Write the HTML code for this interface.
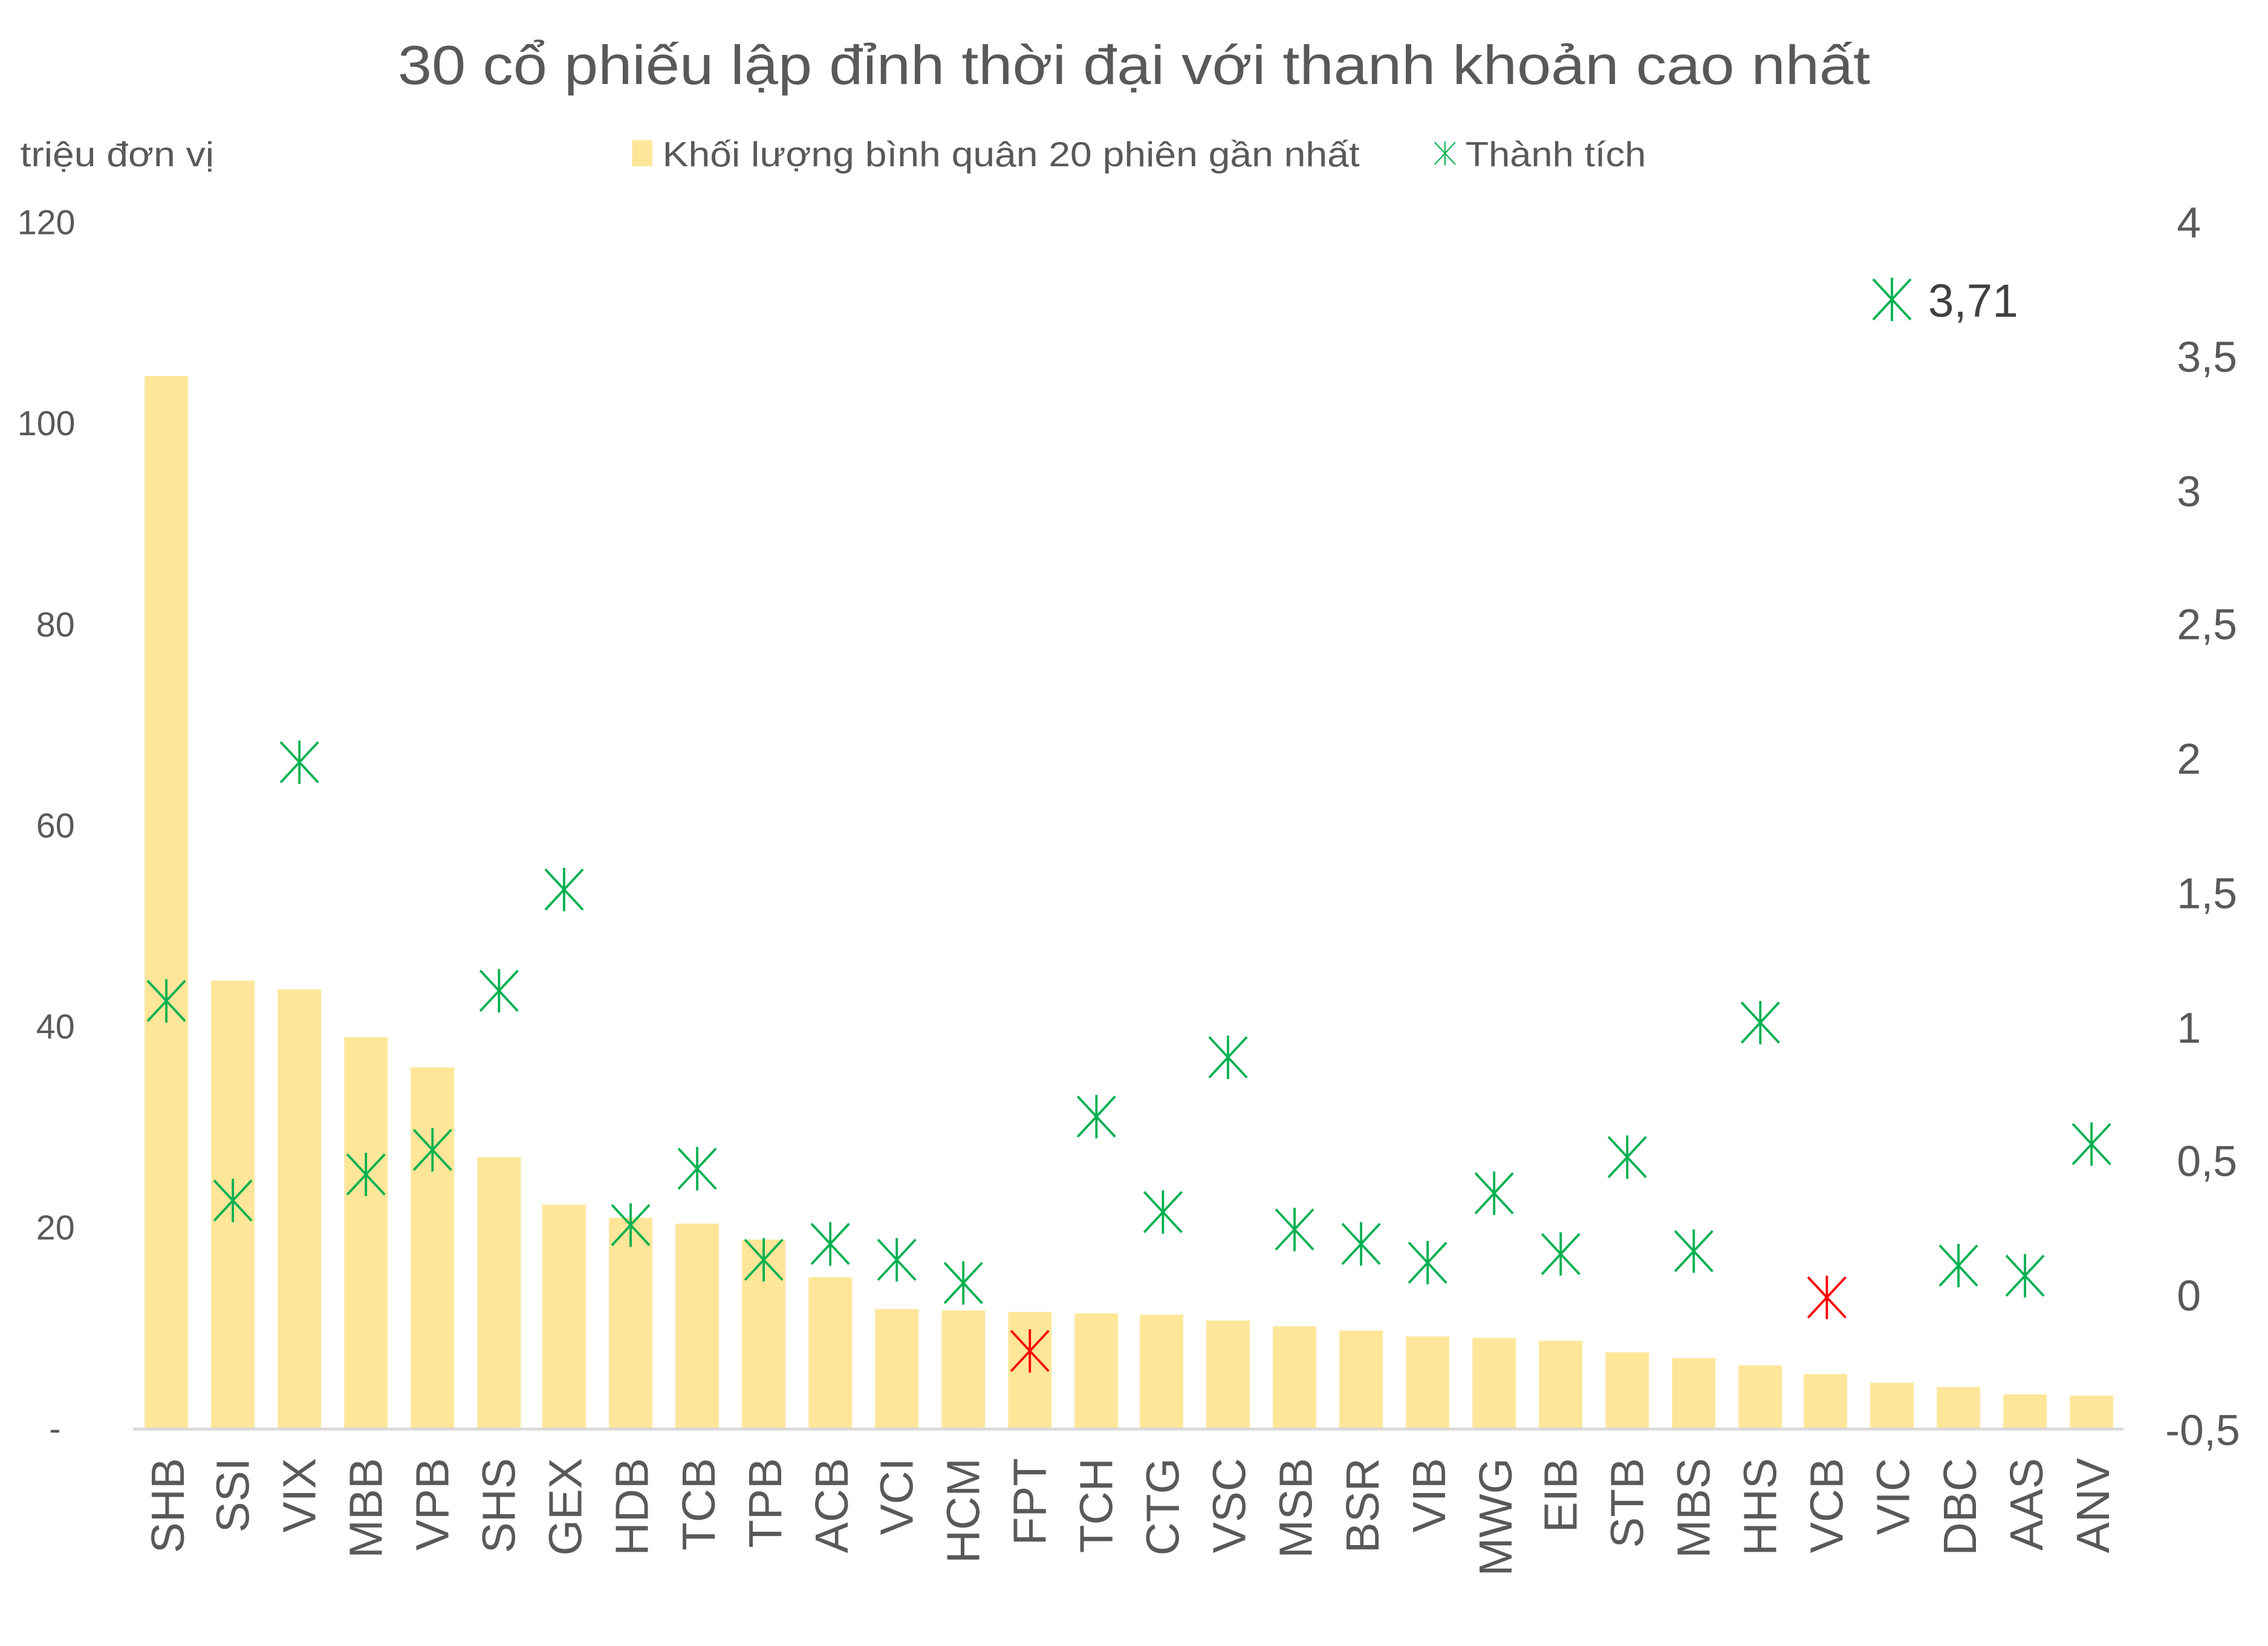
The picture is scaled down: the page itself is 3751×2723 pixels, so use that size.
<!DOCTYPE html>
<html><head><meta charset="utf-8"><style>
html,body{margin:0;padding:0;background:#fff;}
svg{display:block;}
text{font-family:"Liberation Sans",Arial,sans-serif;fill:#595959;}
</style></head><body>
<svg width="3751" height="2723" viewBox="0 0 1568 1138" preserveAspectRatio="none" xmlns="http://www.w3.org/2000/svg">
<defs>
<g id="m" stroke-width="1.6" fill="none"><line x1="-13" y1="-14" x2="13" y2="14"/><line x1="-13" y1="14" x2="13" y2="-14"/><line x1="0" y1="-15" x2="0" y2="15"/></g>
</defs>
<text x="275" y="58" font-size="38" textLength="1018" lengthAdjust="spacingAndGlyphs">30 cổ phiếu lập đỉnh thời đại với thanh khoản cao nhất</text>
<text x="14" y="115" font-size="24" textLength="134" lengthAdjust="spacingAndGlyphs">triệu đơn vị</text>
<rect x="437" y="97" width="14" height="18" fill="#ffe699"/>
<text x="458" y="115" font-size="24" textLength="482" lengthAdjust="spacingAndGlyphs">Khối lượng bình quân 20 phiên gần nhất</text>
<use href="#m" transform="translate(999,106) scale(0.55)" stroke="#00b050"/>
<text x="1013" y="115" font-size="24" textLength="125" lengthAdjust="spacingAndGlyphs">Thành tích</text>
<g font-size="24" text-anchor="start">
<text x="12" y="162">120</text><text x="12" y="301">100</text><text x="25" y="440">80</text><text x="25" y="579">60</text><text x="25" y="718">40</text><text x="25" y="857">20</text><text x="34" y="996">-</text>
</g>
<g font-size="30" text-anchor="start">
<text x="1505" y="164">4</text><text x="1505" y="257">3,5</text><text x="1505" y="350">3</text><text x="1505" y="442">2,5</text><text x="1505" y="535">2</text><text x="1505" y="628">1,5</text><text x="1505" y="721">1</text><text x="1505" y="813">0,5</text><text x="1505" y="906">0</text><text x="1497" y="999">-0,5</text>
</g>
<g fill="#ffe699">
<rect x="100" y="260" width="30" height="728"/>
<rect x="146" y="678" width="30" height="310"/>
<rect x="192" y="684" width="30" height="304"/>
<rect x="238" y="717" width="30" height="271"/>
<rect x="284" y="738" width="30" height="250"/>
<rect x="330" y="800" width="30" height="188"/>
<rect x="375" y="833" width="30" height="155"/>
<rect x="421" y="842" width="30" height="146"/>
<rect x="467" y="846" width="30" height="142"/>
<rect x="513" y="857" width="30" height="131"/>
<rect x="559" y="883" width="30" height="105"/>
<rect x="605" y="905" width="30" height="83"/>
<rect x="651" y="906" width="30" height="82"/>
<rect x="697" y="907" width="30" height="81"/>
<rect x="743" y="908" width="30" height="80"/>
<rect x="788" y="909" width="30" height="79"/>
<rect x="834" y="913" width="30" height="75"/>
<rect x="880" y="917" width="30" height="71"/>
<rect x="926" y="920" width="30" height="68"/>
<rect x="972" y="924" width="30" height="64"/>
<rect x="1018" y="925" width="30" height="63"/>
<rect x="1064" y="927" width="30" height="61"/>
<rect x="1110" y="935" width="30" height="53"/>
<rect x="1156" y="939" width="30" height="49"/>
<rect x="1202" y="944" width="30" height="44"/>
<rect x="1247" y="950" width="30" height="38"/>
<rect x="1293" y="956" width="30" height="32"/>
<rect x="1339" y="959" width="30" height="29"/>
<rect x="1385" y="964" width="30" height="24"/>
<rect x="1431" y="965" width="30" height="23"/>
</g>
<line x1="92" y1="988" x2="1468" y2="988" stroke="#d9d9d9" stroke-width="2"/>
<g stroke="#00b050">
<use href="#m" transform="translate(115,692)"/>
<use href="#m" transform="translate(161,830)"/>
<use href="#m" transform="translate(207,527)"/>
<use href="#m" transform="translate(253,812)"/>
<use href="#m" transform="translate(299,795)"/>
<use href="#m" transform="translate(345,685)"/>
<use href="#m" transform="translate(390,615)"/>
<use href="#m" transform="translate(436,847)"/>
<use href="#m" transform="translate(482,808)"/>
<use href="#m" transform="translate(528,871)"/>
<use href="#m" transform="translate(574,860)"/>
<use href="#m" transform="translate(620,871)"/>
<use href="#m" transform="translate(666,887)"/>
<use href="#m" transform="translate(758,772)"/>
<use href="#m" transform="translate(804,838)"/>
<use href="#m" transform="translate(849,731)"/>
<use href="#m" transform="translate(895,850)"/>
<use href="#m" transform="translate(941,860)"/>
<use href="#m" transform="translate(987,873)"/>
<use href="#m" transform="translate(1033,825)"/>
<use href="#m" transform="translate(1079,867)"/>
<use href="#m" transform="translate(1125,800)"/>
<use href="#m" transform="translate(1171,865)"/>
<use href="#m" transform="translate(1217,707)"/>
<use href="#m" transform="translate(1308,207)"/>
<use href="#m" transform="translate(1354,875)"/>
<use href="#m" transform="translate(1400,882)"/>
<use href="#m" transform="translate(1446,791)"/>
</g>
<g stroke="#ff0000">
<use href="#m" transform="translate(712,934)"/>
<use href="#m" transform="translate(1263,897)"/>
</g>
<text x="1333" y="219" font-size="32" style="fill:#404040">3,71</text>
<g font-size="32">
<text transform="translate(127,1008) rotate(-90)" text-anchor="end">SHB</text>
<text transform="translate(172,1008) rotate(-90)" text-anchor="end">SSI</text>
<text transform="translate(218,1008) rotate(-90)" text-anchor="end">VIX</text>
<text transform="translate(264,1008) rotate(-90)" text-anchor="end">MBB</text>
<text transform="translate(310,1008) rotate(-90)" text-anchor="end">VPB</text>
<text transform="translate(356,1008) rotate(-90)" text-anchor="end">SHS</text>
<text transform="translate(402,1008) rotate(-90)" text-anchor="end">GEX</text>
<text transform="translate(448,1008) rotate(-90)" text-anchor="end">HDB</text>
<text transform="translate(494,1008) rotate(-90)" text-anchor="end">TCB</text>
<text transform="translate(540,1008) rotate(-90)" text-anchor="end">TPB</text>
<text transform="translate(586,1008) rotate(-90)" text-anchor="end">ACB</text>
<text transform="translate(631,1008) rotate(-90)" text-anchor="end">VCI</text>
<text transform="translate(677,1008) rotate(-90)" text-anchor="end">HCM</text>
<text transform="translate(723,1008) rotate(-90)" text-anchor="end">FPT</text>
<text transform="translate(769,1008) rotate(-90)" text-anchor="end">TCH</text>
<text transform="translate(815,1008) rotate(-90)" text-anchor="end">CTG</text>
<text transform="translate(861,1008) rotate(-90)" text-anchor="end">VSC</text>
<text transform="translate(907,1008) rotate(-90)" text-anchor="end">MSB</text>
<text transform="translate(953,1008) rotate(-90)" text-anchor="end">BSR</text>
<text transform="translate(999,1008) rotate(-90)" text-anchor="end">VIB</text>
<text transform="translate(1045,1008) rotate(-90)" text-anchor="end">MWG</text>
<text transform="translate(1090,1008) rotate(-90)" text-anchor="end">EIB</text>
<text transform="translate(1136,1008) rotate(-90)" text-anchor="end">STB</text>
<text transform="translate(1182,1008) rotate(-90)" text-anchor="end">MBS</text>
<text transform="translate(1228,1008) rotate(-90)" text-anchor="end">HHS</text>
<text transform="translate(1274,1008) rotate(-90)" text-anchor="end">VCB</text>
<text transform="translate(1320,1008) rotate(-90)" text-anchor="end">VIC</text>
<text transform="translate(1366,1008) rotate(-90)" text-anchor="end">DBC</text>
<text transform="translate(1412,1008) rotate(-90)" text-anchor="end">AAS</text>
<text transform="translate(1458,1008) rotate(-90)" text-anchor="end">ANV</text>
</g>
</svg>
</body></html>
